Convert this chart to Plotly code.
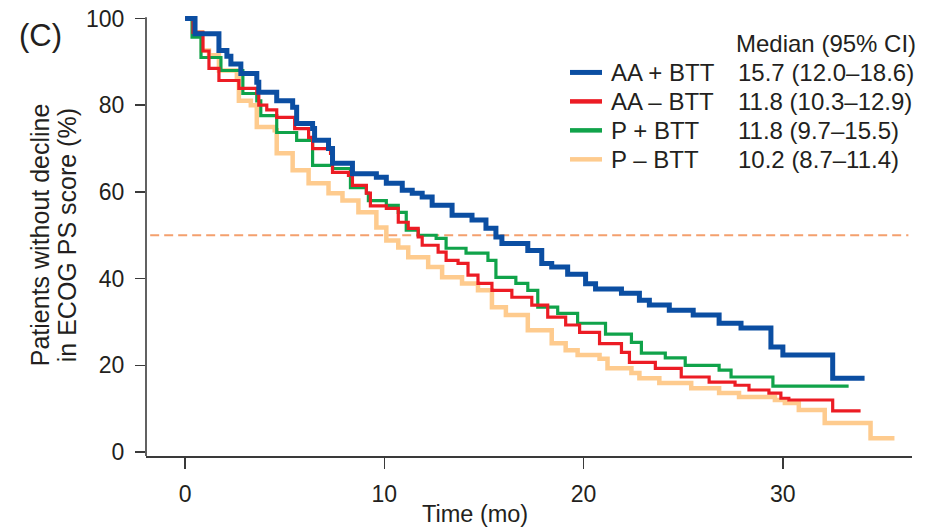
import plotly.graph_objects as go

# ---------------- data ----------------
series_names = ["AA + BTT", "AA \u2013 BTT", "P + BTT", "P \u2013 BTT"]
median_ci = ["15.7 (12.0\u201318.6)", "11.8 (10.3\u201312.9)", "11.8 (9.7\u201315.5)", "10.2 (8.7\u201311.4)"]

aa_btt_t = [0, 0.5, 1.7, 2.1, 2.3, 2.8, 3.6, 3.7, 4.6, 5.4, 5.6, 6.4, 6.5, 7.2, 7.4, 8.4, 9.6, 10.1,
            10.9, 11.4, 11.9, 12.4, 13.4, 14.4, 15.1, 15.6, 15.9, 17.2, 17.9, 18.4, 19.2, 20.1, 20.6,
            21.9, 22.8, 23.3, 24.3, 25.5, 26.8, 27.9, 29.4, 30.0, 32.5, 34.1]
aa_btt_s = [100, 96.5, 92.6, 91.3, 89.5, 87.3, 85.3, 83.0, 81.0, 79.5, 75.8, 74.6, 71.9, 70.0, 66.6,
            64.2, 63.4, 62.0, 60.4, 59.7, 58.8, 56.9, 54.6, 53.5, 51.6, 49.6, 48.1, 46.5, 43.5, 42.7,
            41.0, 38.8, 37.6, 36.6, 35.0, 33.9, 32.7, 31.6, 29.7, 28.6, 24.2, 22.4, 17.0, 17.0]

aa_nobtt_t = [0, 0.4, 0.9, 1.2, 1.7, 2.7, 3.6, 3.7, 4.1, 4.6, 5.5, 6.2, 6.4, 7.3, 7.4, 8.2, 8.4, 9.1,
              9.3, 10.1, 10.7, 11.2, 11.7, 11.9, 12.7, 13.1, 13.7, 14.2, 14.7, 15.4, 16.4, 17.4, 18.2,
              19.1, 19.8, 20.8, 21.9, 22.3, 23.6, 24.9, 26.3, 27.6, 28.3, 29.3, 29.9, 30.3, 32.5, 33.9]
aa_nobtt_s = [100, 96.8, 92.5, 88.5, 85.7, 83.9, 82.7, 80.0, 78.9, 77.2, 74.6, 72.6, 70.0, 68.9, 64.5,
              63.8, 61.5, 59.7, 56.8, 56.2, 53.0, 51.6, 49.6, 47.7, 46.1, 44.2, 43.5, 40.8, 38.9, 37.3,
              35.7, 33.9, 31.1, 29.3, 27.6, 25.0, 23.0, 20.7, 19.3, 17.3, 16.1, 15.4, 14.3, 13.6, 12.4,
              12.0, 9.5, 9.5]

p_btt_t = [0, 0.35, 0.8, 1.8, 2.9, 3.6, 3.8, 4.6, 5.6, 6.4, 7.4, 8.3, 9.1, 9.2, 10.1, 10.7, 11.1,
           11.7, 12.6, 13.1, 14.1, 15.2, 15.6, 16.6, 17.2, 17.7, 18.7, 19.7, 21.1, 22.4, 22.9, 24.1,
           25.1, 26.8, 27.4, 29.5, 33.3]
p_btt_s = [100, 95.7, 91.0, 88.0, 82.7, 81.0, 77.6, 73.7, 71.9, 66.1, 65.4, 61.0, 59.7, 58.0, 56.9,
           55.3, 51.2, 50.0, 49.3, 47.0, 45.9, 44.2, 40.3, 38.9, 37.3, 33.4, 32.0, 29.7, 27.2, 25.3,
           22.8, 21.7, 20.0, 18.9, 17.3, 15.2, 15.2]

p_nobtt_t = [0, 0.45, 0.85, 1.2, 1.7, 2.6, 2.7, 3.3, 3.6, 4.5, 4.6, 5.4, 6.2, 7.2, 7.9, 8.7, 9.6,
             10.1, 10.7, 11.2, 12.2, 12.9, 13.9, 14.7, 15.4, 16.1, 17.2, 18.4, 19.1, 19.7, 20.8, 21.2,
             22.4, 22.8, 23.8, 25.4, 26.8, 27.8, 29.6, 30.1, 30.8, 32.1, 34.4, 35.6]
p_nobtt_s = [100, 96.8, 92.6, 91.5, 88.0, 86.4, 81.0, 80.0, 75.0, 74.2, 68.9, 65.0, 62.0, 59.7, 58.0,
             55.3, 51.8, 48.8, 47.2, 44.9, 42.7, 40.3, 38.9, 37.3, 33.4, 31.6, 28.1, 25.1, 23.5, 22.4,
             21.5, 19.3, 18.2, 17.0, 15.9, 14.7, 13.6, 12.7, 12.0, 11.3, 9.7, 6.7, 3.2, 3.2]

x_ticks = [0, 10, 20, 30]
y_ticks = [0, 20, 40, 60, 80, 100]
median_line = 50

# ---------------- styling ----------------
colors = ["#0b4ea2", "#ec1c24", "#10a34a", "#fecb8e"]
widths = [5, 3.2, 3.2, 4.5]
FONT = "Liberation Sans"
TXT = "#231f20"

W, H = 934, 530
L, R, T, B = 146, 22, 11.5, 74
xr = [-1.96, 36.48]
yr = [-0.92, 101.5]


def px(xp):
    return (xp - L) / (W - L - R)


def py(yp):
    return (H - B - yp) / (H - T - B)


fig = go.Figure()

curves = [(aa_btt_t, aa_btt_s), (aa_nobtt_t, aa_nobtt_s), (p_btt_t, p_btt_s), (p_nobtt_t, p_nobtt_s)]
order = [3, 2, 1, 0]
for i in order:
    t, s = curves[i]
    fig.add_trace(go.Scatter(x=t, y=s, mode="lines", line_shape="hv",
                             line=dict(color=colors[i], width=widths[i]),
                             name=series_names[i], showlegend=False, hoverinfo="skip"))

shapes = []
# median reference line
shapes.append(dict(type="line", xref="x", yref="y", x0=-1.75, x1=36.3, y0=median_line, y1=median_line,
                   line=dict(color="#f4a06e", width=2, dash="9px,5px"), layer="below"))
# y axis line (ends at 100)
shapes.append(dict(type="line", xref="paper", yref="y", x0=0, x1=0, y0=yr[0], y1=100.3,
                   line=dict(color="#3a3a3a", width=1.6)))

annotations = []
# panel label
annotations.append(dict(text="(C)", xref="paper", yref="paper", x=px(40), y=py(35),
                        showarrow=False, font=dict(family=FONT, size=31, color=TXT),
                        xanchor="center", yanchor="middle"))
# y title (two lines)
for txt, xc in [("Patients without decline", 40), ("in ECOG PS score (%)", 67)]:
    annotations.append(dict(text=txt, xref="paper", yref="paper", x=px(xc), y=py(235),
                            textangle=-90, showarrow=False, font=dict(family=FONT, size=25, color=TXT),
                            xanchor="center", yanchor="middle"))
# x title
annotations.append(dict(text="Time (mo)", xref="paper", yref="paper", x=px(475), y=py(514),
                        showarrow=False, font=dict(family=FONT, size=23.5, color=TXT),
                        xanchor="center", yanchor="middle"))
# legend
annotations.append(dict(text="Median (95% CI)", xref="paper", yref="paper", x=px(734), y=py(43),
                        showarrow=False, font=dict(family=FONT, size=24, color=TXT),
                        xanchor="left", yanchor="middle"))
row_y = [72, 101, 130, 159]
for i in range(4):
    shapes.append(dict(type="line", xref="paper", yref="paper", x0=px(570), x1=px(602),
                       y0=py(row_y[i]), y1=py(row_y[i]),
                       line=dict(color=colors[i], width=[5, 4.5, 4.5, 4.5][i])))
    annotations.append(dict(text=series_names[i], xref="paper", yref="paper", x=px(609), y=py(row_y[i]),
                            showarrow=False, font=dict(family=FONT, size=24, color=TXT),
                            xanchor="left", yanchor="middle"))
    annotations.append(dict(text=median_ci[i], xref="paper", yref="paper", x=px(736), y=py(row_y[i]),
                            showarrow=False, font=dict(family=FONT, size=24, color=TXT),
                            xanchor="left", yanchor="middle"))

fig.update_layout(
    template="none",
    width=W, height=H,
    margin=dict(l=L, r=R, t=T, b=B, autoexpand=False),
    paper_bgcolor="white", plot_bgcolor="white",
    shapes=shapes, annotations=annotations,
    showlegend=False,
    xaxis=dict(range=xr, tickvals=x_ticks, ticks="outside", ticklen=11, tickwidth=1.6,
               tickcolor="#3a3a3a", showline=True, linecolor="#3a3a3a", linewidth=1.6,
               showgrid=False, zeroline=False, tickfont=dict(family=FONT, size=23, color=TXT),
               ticklabelstandoff=6, automargin=False),
    yaxis=dict(range=yr, tickvals=y_ticks, ticks="outside", ticklen=10, tickwidth=1.6,
               tickcolor="#3a3a3a", showline=False, showgrid=False, zeroline=False,
               tickfont=dict(family=FONT, size=23, color=TXT), ticklabelstandoff=6,
               automargin=False),
)

fig.write_html("out.html", config={"displayModeBar": False, "staticPlot": True})

# remove the browser's default page margin so the figure sits at the window's top-left corner
with open("out.html", "r", encoding="utf-8") as f:
    html = f.read()
html = html.replace("<head>", "<head><style>html,body{margin:0;padding:0;overflow:hidden;}</style>", 1)
with open("out.html", "w", encoding="utf-8") as f:
    f.write(html)
